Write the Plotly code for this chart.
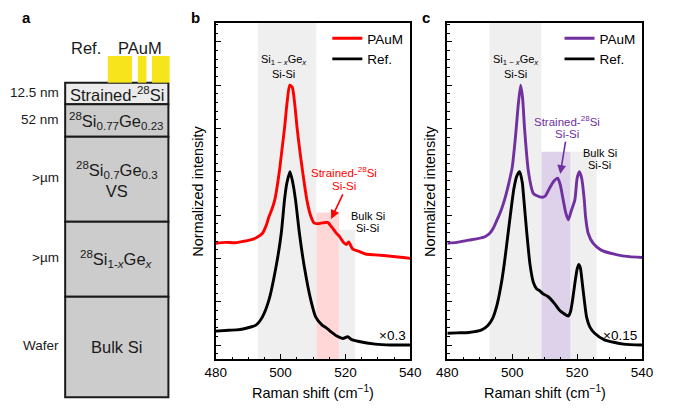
import plotly.graph_objects as go

FONT = "Liberation Sans, Arial, sans-serif"

# ---------------- data ----------------
# panel b
b_pauM_x = [480, 483, 486, 489, 491, 493, 494.4, 495.5, 496.4, 497.4, 498.2, 499.6, 500.4, 501.2, 502, 502.8,
            503.6, 504.3, 505.1, 505.9, 506.8, 508.1, 509.2, 510.3, 511.5, 513, 514.5, 515.8, 517, 518.2,
            519.5, 520.3, 521, 522.2, 524.2, 526.2, 529.2, 534.1, 540]
b_pauM_y = [2.35, 2.37, 2.36, 2.40, 2.43, 2.50, 2.58, 2.75, 2.96, 3.15, 3.35, 4.0, 4.5, 5.0, 5.6, 6.0,
            5.95, 5.6, 5.0, 4.5, 4.0, 3.35, 3.0, 2.82, 2.80, 2.82, 2.83, 2.72, 2.6, 2.5,
            2.36, 2.32, 2.38, 2.22, 2.16, 2.1, 2.08, 2.05, 2.0]
b_ref_x = [480, 484, 486.4, 488.4, 490.5, 492.4, 494.4, 496.4, 498.6, 500.2, 501.2, 501.9, 502.9, 503.8,
           504.6, 505.8, 507.3, 509.3, 510.8, 512.8, 514, 515, 516.2, 517.5, 519.2, 520.7, 521.8, 524.2,
           529.2, 534, 540]
b_ref_y = [0.32, 0.34, 0.35, 0.37, 0.41, 0.46, 0.65, 1.04, 1.81, 2.58, 3.35, 3.73, 4.0, 3.73,
           3.35, 2.58, 1.81, 1.04, 0.65, 0.46, 0.40, 0.34, 0.27, 0.2, 0.15, 0.19, 0.13, 0.08,
           0.02, 0.0, 0.0]

# panel c
c_pauM_x = [480, 483, 486.6, 489, 491.6, 493.1, 494.2, 495.1, 496.0, 497.0, 498.0, 499.0, 500.0, 501.0, 501.8,
            502.6, 503.2, 503.8, 505.0, 506.5, 507.5, 508.5, 509.3, 510.2, 511.5, 512.8, 514.0, 514.8, 515.7,
            516.5, 517.3, 518.2, 519.3, 520.0, 520.7, 521.4, 522.2, 522.6, 523.4, 524.9, 527.4, 532.4, 536, 540]
c_pauM_y = [2.35, 2.37, 2.42, 2.45, 2.50, 2.58, 2.70, 2.85, 3.0, 3.2, 3.45, 3.75, 4.1, 4.8, 5.5,
            6.0, 5.7, 5.0, 4.0, 3.5, 3.45, 3.42, 3.41, 3.44, 3.62, 3.78, 3.85, 3.7, 3.35,
            3.05, 2.89, 3.1, 3.35, 3.85, 4.0, 3.85, 3.35, 2.96, 2.58, 2.35, 2.19, 2.08, 2.04, 2.02]
c_ref_x = [480, 483, 486.6, 490.6, 492.5, 494, 495.4, 496.6, 497.6, 498.6, 499.6, 500.5, 501.4, 502.3, 503.1,
           503.6, 504.5, 505.5, 506.5, 507.5, 508.5, 509.5, 511.0, 513.0, 514.5, 516, 517.3, 518.0, 518.6,
           519.3, 520.0, 520.5, 521.0, 521.6, 522.2, 522.9, 523.9, 525.4, 528.4, 534.3, 540]
c_ref_y = [0.27, 0.28, 0.29, 0.35, 0.45, 0.62, 0.95, 1.4, 1.9, 2.5, 3.1, 3.6, 3.9, 4.0, 3.75,
           3.35, 2.58, 1.85, 1.45, 1.3, 1.25, 1.18, 1.12, 0.96, 0.81, 0.72, 0.67, 0.78, 1.04,
           1.42, 1.75, 1.86, 1.78, 1.42, 1.04, 0.65, 0.42, 0.27, 0.12, 0.02, 0.0]

x_ticks = [480, 500, 520, 540]
x_tick_labels = ["480", "500", "520", "540"]

# shaded bands: (x0, x1, top, colour) ; top None = full height
b_bands = [(493, 511, None, "#efefef"), (511, 518, 3.06, "#ffd7d7"), (518, 523, 2.66, "#efefef")]
c_bands = [(493, 509, None, "#efefef"), (509, 518, 4.46, "#ddd2ea"), (518, 526, 4.46, "#efefef")]

# panel a: layer stack (schematic units = px)
layer_names = ["Strained-<sup>28</sup>Si",
               "<sup>28</sup>Si<sub>0.77</sub>Ge<sub>0.23</sub>",
               "<sup>28</sup>Si<sub>0.7</sub>Ge<sub>0.3</sub><br>VS",
               "<sup>28</sup>Si<sub>1-<i>x</i></sub>Ge<sub><i>x</i></sub>",
               "Bulk Si"]
layer_side_labels = ["12.5 nm", "52 nm", ">µm", ">µm", "Wafer"]
layer_edges = [82.7, 104.3, 136.7, 221.7, 296.7, 397.3]
layer_colors = ["#ebebeb", "#cccccc", "#cccccc", "#cccccc", "#cccccc"]
stack_center, stack_width = 109.35, 106.7
pads_center = [112.5, 135.5, 154.85]
pads_width = [25, 9, 18.3]
pads_top, pads_height = 56, 26.7

RED = "#ff0000"
PURPLE = "#7030a0"

fig = go.Figure()

# ---------- panel a ----------
thick = [layer_edges[i + 1] - layer_edges[i] for i in range(len(layer_names))]
fig.add_trace(go.Bar(x=[stack_center] * len(thick), y=thick, base=layer_edges[:-1], width=stack_width,
                     marker=dict(color=layer_colors, line=dict(color="#1a1a1a", width=2)),
                     xaxis="x3", yaxis="y3", showlegend=False, hoverinfo="skip"))
fig.add_trace(go.Bar(x=pads_center, y=[pads_height] * 3, base=[pads_top] * 3, width=pads_width,
                     marker=dict(color="#f6e51d", line=dict(width=0)),
                     xaxis="x3", yaxis="y3", showlegend=False, hoverinfo="skip"))

# ---------- panel b ----------
fig.add_trace(go.Scatter(x=b_pauM_x, y=b_pauM_y, mode="lines", name="PAuM",
                         line=dict(color=RED, width=2.9, shape="spline", smoothing=0.6),
                         xaxis="x", yaxis="y", legend="legend"))
fig.add_trace(go.Scatter(x=b_ref_x, y=b_ref_y, mode="lines", name="Ref.",
                         line=dict(color="black", width=2.9, shape="spline", smoothing=0.6),
                         xaxis="x", yaxis="y", legend="legend"))
# ---------- panel c ----------
fig.add_trace(go.Scatter(x=c_pauM_x, y=c_pauM_y, mode="lines", name="PAuM",
                         line=dict(color=PURPLE, width=2.9, shape="spline", smoothing=0.6),
                         xaxis="x2", yaxis="y2", legend="legend2"))
fig.add_trace(go.Scatter(x=c_ref_x, y=c_ref_y, mode="lines", name="Ref.",
                         line=dict(color="black", width=2.9, shape="spline", smoothing=0.6),
                         xaxis="x2", yaxis="y2", legend="legend2"))

shapes = []
for bands, xr, yr in ((b_bands, "x", "y"), (c_bands, "x2", "y2")):
    for x0, x1, top, col in bands:
        if top is None:
            shapes.append(dict(type="rect", xref=xr, yref=yr + " domain", x0=x0, x1=x1, y0=0, y1=1,
                               fillcolor=col, line=dict(width=0), layer="below"))
        else:
            shapes.append(dict(type="rect", xref=xr, yref=yr, x0=x0, x1=x1, y0=-0.33, y1=top,
                               fillcolor=col, line=dict(width=0), layer="below"))

ann = []
def A(text, x, y, xref, yref, size, color="black", **kw):
    d = dict(text=text, x=x, y=y, xref=xref, yref=yref, showarrow=False,
             xanchor="center", yanchor="middle",
             font=dict(family=FONT, size=size, color=color))
    d.update(kw)
    ann.append(d)

# panel a texts
for i, name in enumerate(layer_names):
    yc = (layer_edges[i] + layer_edges[i + 1]) / 2
    A(name, stack_center, yc, "x3", "y3", 16.5, "#1a1a1a")
    A(layer_side_labels[i], 52, yc - 1.5, "x3", "y3", 13.5, "#1a1a1a", xanchor="right")
A("Ref.", 78, 47.7, "x3", "y3", 16.5, "#1a1a1a")
A("PAuM", 133, 47.7, "x3", "y3", 16.5, "#1a1a1a")

# panel letters
A("<b>a</b>", 16.5 / 675, 1 - 18 / 411, "paper", "paper", 15)
A("<b>b</b>", 190.5 / 675, 1 - 18 / 411, "paper", "paper", 15)
A("<b>c</b>", 429 / 675, 1 - 18 / 411, "paper", "paper", 15)

# axis titles
for xc, yc in ((193 / 675, 1 - 191 / 411), (433 / 675, 1 - 191 / 411)):
    A("Normalized intensity", xc, yc, "paper", "paper", 14.5, textangle=-90)
for xc in (312.2 / 675, 551.6 / 675):
    A("Raman shift (cm<sup>−1</sup>)", xc, 1 - 392 / 411, "paper", "paper", 14.5)

SIGE = "Si<sub>1 − <i>x</i></sub>Ge<sub><i>x</i></sub>"
# panel b annotations
A(SIGE, 500.9, 6.58, "x", "y", 11)
A("Si-Si", 500.9, 6.26, "x", "y", 11)
A("Strained-<sup>28</sup>Si", 519.7, 3.99, "x", "y", 11.5, RED)
A("Si-Si", 519.7, 3.68, "x", "y", 11.5, RED)
A("Bulk Si", 526.9, 2.98, "x", "y", 11)
A("Si-Si", 526.9, 2.70, "x", "y", 11)
A("×0.3", 539.3, 0.22, "x", "y", 13.5, xanchor="right")
ann.append(dict(x=515.6, y=2.91, ax=519.4, ay=3.51, xref="x", yref="y", axref="x", ayref="y", text="",
                showarrow=True, arrowhead=2, arrowsize=1.1, arrowwidth=1.6, arrowcolor=RED))
# panel c annotations
A(SIGE, 501.1, 6.58, "x2", "y2", 11)
A("Si-Si", 501.1, 6.26, "x2", "y2", 11)
A("Strained-<sup>28</sup>Si", 517.0, 5.18, "x2", "y2", 11.5, PURPLE)
A("Si-Si", 517.0, 4.88, "x2", "y2", 11.5, PURPLE)
A("Bulk Si", 526.9, 4.43, "x2", "y2", 11)
A("Si-Si", 526.9, 4.16, "x2", "y2", 11)
A("×0.15", 539.0, 0.22, "x2", "y2", 13.5, xanchor="right")
ann.append(dict(x=514.8, y=3.95, ax=516.5, ay=4.73, xref="x2", yref="y2", axref="x2", ayref="y2", text="",
                showarrow=True, arrowhead=2, arrowsize=1.1, arrowwidth=1.6, arrowcolor=PURPLE))

xax = dict(range=[480, 540], tickvals=x_ticks, ticktext=x_tick_labels, ticks="inside", ticklen=6,
           tickwidth=1.3, tickcolor="black",
           minor=dict(dtick=5, tick0=480, ticklen=3, ticks="inside", tickwidth=1.2, tickcolor="black"),
           showline=True, linewidth=1.5, linecolor="black", mirror=True, showgrid=False, zeroline=False,
           tickfont=dict(family=FONT, size=13.5, color="black"))
yax = dict(range=[-0.33, 7.44], tick0=0, dtick=1, ticks="inside", ticklen=5, tickwidth=1.3, tickcolor="black",
           minor=dict(dtick=0.2, tick0=0, ticklen=2.5, ticks="inside", tickwidth=1.1, tickcolor="black"),
           showticklabels=False, showline=True, linewidth=1.5, linecolor="black", mirror=True,
           showgrid=False, zeroline=False)

y_dom = [1 - 359.3 / 411, 1 - 22.7 / 411]
fig.update_layout(
    width=675, height=411, margin=dict(l=0, r=0, t=0, b=0),
    paper_bgcolor="white", plot_bgcolor="white", barmode="overlay",
    font=dict(family=FONT, color="black"),
    xaxis=dict(domain=[211.7 / 675, 412.7 / 675], anchor="y", **xax),
    yaxis=dict(domain=y_dom, anchor="x", **yax),
    xaxis2=dict(domain=[451 / 675, 652.3 / 675], anchor="y2", **xax),
    yaxis2=dict(domain=y_dom, anchor="x2", **yax),
    xaxis3=dict(domain=[0, 202.5 / 675], range=[0, 202.5], visible=False, anchor="y3"),
    yaxis3=dict(domain=[0, 1], range=[411, 0], visible=False, anchor="x3"),
    shapes=shapes, annotations=ann,
    legend=dict(x=327 / 675, y=1 - 23 / 411, xanchor="left", yanchor="top", bgcolor="rgba(0,0,0,0)",
                font=dict(family=FONT, size=13.5), itemwidth=30, tracegroupgap=0),
    legend2=dict(x=567 / 675, y=1 - 23 / 411, xanchor="left", yanchor="top", bgcolor="rgba(0,0,0,0)",
                 font=dict(family=FONT, size=13.5), itemwidth=30, tracegroupgap=0),
    showlegend=True,
)

fig.write_html("out.html", config={"displayModeBar": False},
               post_script="document.body.style.margin='0px';")
